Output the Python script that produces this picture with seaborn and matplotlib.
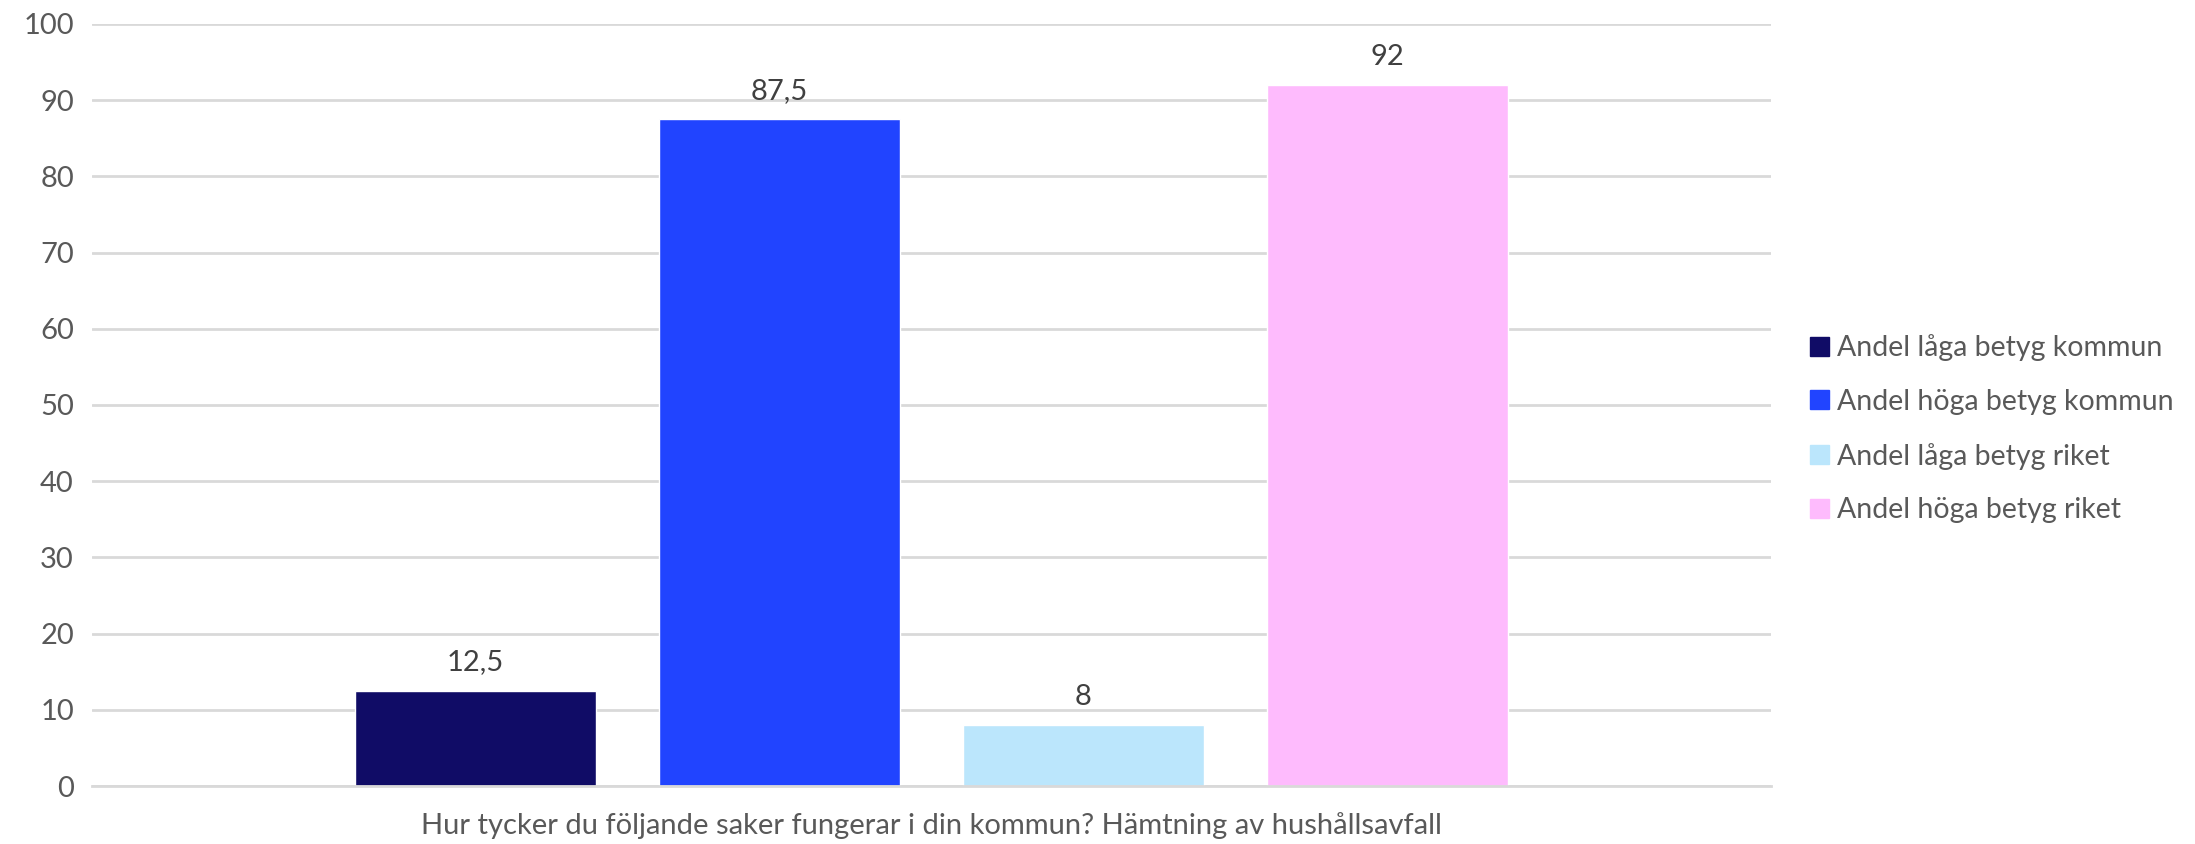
import numpy as np
import pandas as pd
import matplotlib.pyplot as plt
import seaborn as sns

question = 'Hur tycker du följande saker fungerar i din kommun? Hämtning av hushållsavfall'
series = ['Andel låga betyg kommun', 'Andel höga betyg kommun',
          'Andel låga betyg riket', 'Andel höga betyg riket']
values = [12.5, 87.5, 8, 92]
colors = ['#100c66', '#2144ff', '#bbe6fc', '#febbfd']

sns.set_style('white')
plt.rcParams['font.family'] = ['Lato', 'DejaVu Sans']

df = pd.DataFrame({'fraga': [question] * len(series), 'serie': series, 'andel': values})

fig = plt.figure(figsize=(21.95, 8.44), dpi=100)
ax = fig.add_axes([0.0419, 0.0687, 0.7649, 0.9029])
sns.barplot(data=df, x='fraga', y='andel', hue='serie', hue_order=series,
            palette=dict(zip(series, colors)), width=0.724, gap=0.207,
            errorbar=None, saturation=1, ax=ax, legend=False)

for cont in ax.containers:
    ax.bar_label(cont, labels=[f'{b.get_height():g}'.replace('.', ',') for b in cont],
                 padding=11, fontsize=21, color='#404040')

ax.set_xlim(-0.5, 0.5)
ax.set_ylim(0, 100)
ax.set_yticks(np.arange(0, 101, 10))
ax.yaxis.grid(True, color='#d9d9d9', linewidth=2)
ax.set_axisbelow(True)
for s in ['top', 'right', 'left']:
    ax.spines[s].set_visible(False)
ax.spines['bottom'].set_color('#d9d9d9')
ax.spines['bottom'].set_linewidth(2)
ax.set_xlabel('')
ax.set_ylabel('')
ax.tick_params(axis='y', length=0, labelsize=21, labelcolor='#595959', pad=13)
ax.tick_params(axis='x', which='major', length=0, labelsize=21, labelcolor='#595959', pad=19)
ax.set_xticks([-0.5, 0.5], minor=True)
ax.tick_params(axis='x', which='minor', length=10, width=2, color='#d9d9d9')

handles = [plt.Rectangle((0, 0), 1, 1, color=c) for c in colors]
fig.legend(handles, series, loc='center left', bbox_to_anchor=(0.813, 0.492),
           frameon=False, fontsize=20.5, labelcolor='#595959',
           handlelength=0.65, handleheight=0.65, handletextpad=0.3, labelspacing=0.97)

fig.savefig('out.png', dpi=100)
